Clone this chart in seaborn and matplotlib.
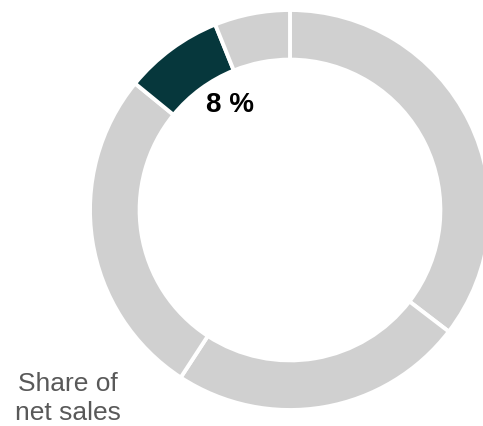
import matplotlib
matplotlib.use("Agg")
import matplotlib.pyplot as plt
import seaborn as sns

# Share of net sales by segment, clockwise from 12 o'clock
segments = ["Segment A", "Segment B", "Segment C", "Highlighted", "Segment E"]
shares = [35.4, 23.8, 26.7, 8.0, 6.1]
highlight = "Highlighted"
caption_lines = ["Share of", "net sales"]

sns.set_theme(style="white")
plt.rcParams["font.family"] = ["Liberation Sans", "DejaVu Sans"]

grey = "#d0d0d0"
dark = "#06373c"
colors = [dark if s == highlight else grey for s in segments]

W, H, DPI = 483, 426, 100
fig = plt.figure(figsize=(W / DPI, H / DPI), dpi=DPI)
fig.patch.set_facecolor("white")

cx, cy, r = 290, 210, 200
ax = fig.add_axes([(cx - r) / W, (H - cy - r) / H, 2 * r / W, 2 * r / H])

ax.pie(
    shares,
    colors=colors,
    startangle=90,
    counterclock=False,
    radius=1.0,
    wedgeprops=dict(width=0.248, edgecolor="white", linewidth=2.8),
)
ax.set_xlim(-1, 1)
ax.set_ylim(-1, 1)
ax.set_aspect("equal")
ax.axis("off")

hi = segments.index(highlight)
ax.text(-0.30, 0.525, f"{shares[hi]:.0f} %", ha="center", va="center",
        fontsize=20, fontweight="bold", color="black")

fig.text(67.5 / W, 35 / H, caption_lines[0], ha="center", va="baseline",
         fontsize=19, color="#595959")
fig.text(67.5 / W, 6 / H, caption_lines[1], ha="center", va="baseline",
         fontsize=19, color="#595959")

fig.savefig("out.png", dpi=DPI, facecolor="white")
